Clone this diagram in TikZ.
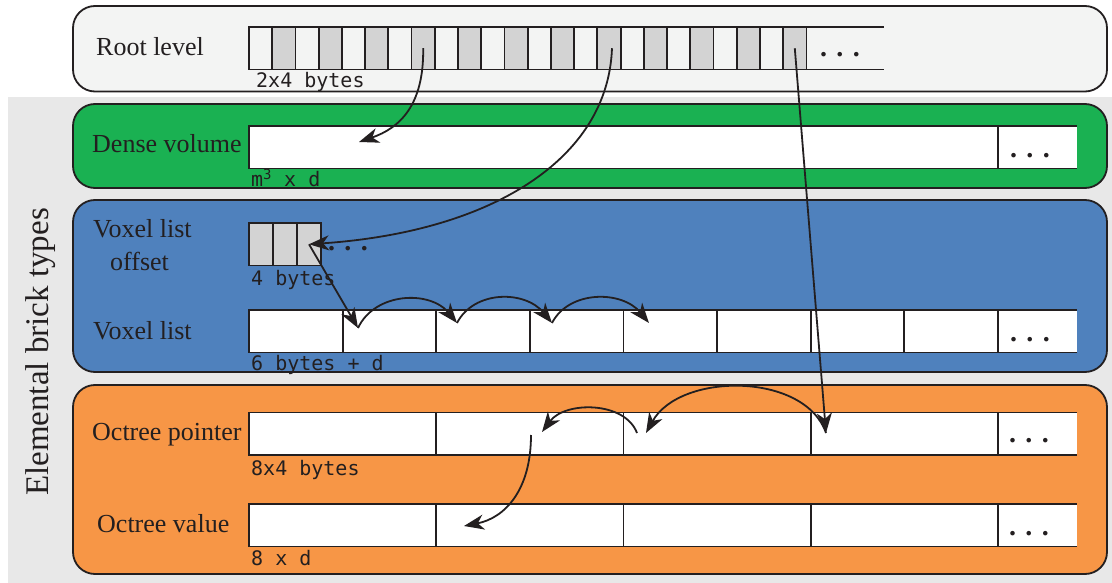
\documentclass[tikz,border=0pt]{standalone}
\usepackage{fontspec}
\setmainfont{Liberation Serif}
\newfontfamily\monof{DejaVu Sans Mono}
\usetikzlibrary{arrows.meta}
\definecolor{outerbg}{HTML}{E8E8E8}
\definecolor{rootbg}{HTML}{F3F4F3}
\definecolor{greenbg}{HTML}{1AB152}
\definecolor{bluebg}{HTML}{4F81BD}
\definecolor{orangebg}{HTML}{F79646}
\definecolor{cellgray}{HTML}{D3D3D3}
\definecolor{ink}{HTML}{231F20}
\begin{document}
\begin{tikzpicture}[x=1pt,y=-1pt,
  panel/.style={draw=ink,line width=1.8pt,rounded corners=22pt},
  cell/.style={draw=ink,line width=1.8pt,inner sep=0pt,outer sep=0pt,anchor=north west,minimum height=42.5pt},
  tail/.style={fill=white,inner sep=0pt,outer sep=0pt,anchor=north west,minimum height=42.5pt,minimum width=79pt},
  rowline/.style={draw=ink,line width=1.8pt},
  lbl/.style={inner sep=0pt,anchor=base west,text=ink,font=\fontsize{26}{30}\selectfont},
  mono/.style={inner sep=0pt,anchor=base west,text=ink,font=\monof\fontsize{20}{24}\selectfont},
  dotsn/.style={inner sep=0pt,anchor=base,text=ink,font=\fontsize{28}{30}\selectfont\bfseries},
  arr/.style={draw=ink,line width=1.8pt,-{Stealth[length=20pt,width=15pt,inset=6pt]}},
]
\useasboundingbox (0,0) rectangle (1112,583);
\fill[outerbg] (8,97) rectangle (1112,583);
% panels
\draw[panel,fill=rootbg] (73,6) rectangle (1107,91.5);
\draw[panel,fill=greenbg] (73,104) rectangle (1107,188);
\draw[panel,fill=bluebg] (73,200) rectangle (1107,372);
\draw[panel,fill=orangebg] (73,385) rectangle (1107,574);
% side label
\node[rotate=90,inner sep=0pt,text=ink,font=\fontsize{33}{36}\selectfont] (side) at (41,352) {Elemental brick types};
% root row
\foreach \i in {0,...,23}{
  \ifodd\i \def\cc{cellgray}\else \def\cc{rootbg}\fi
  \node[cell,fill=\cc,minimum width=23.225pt] (r\i) at ({249+23.225*\i},27) {};
}
\draw[rowline] (r23.north east) -- ++(78,0) (r23.south east) -- ++(78,0);
\node[dotsn] (rdots) at (840,57) {. . .};
\node[lbl] (lroot) at (96,56) {Root level};
\node[mono] (mroot) at (256,88) {2x4 bytes};
% dense volume
\node[tail] (dT) at (998,126) {};
\draw[rowline] (dT.north west) -- (dT.north east) (dT.south west) -- (dT.south east);
\node[cell,fill=white,minimum width=749pt] (d1) at (249,126) {};
\node[dotsn] (ddots) at (1030,157.5) {. . .};
\node[lbl] (ldense) at (92,153) {Dense volume};
\node[mono] (mdense) at (251,186) {m\raisebox{-1pt}{\textsuperscript{3}} x d};
% voxel list offset
\foreach \i in {1,2,3}{
  \node[cell,fill=cellgray,minimum width=24pt] (o\i) at ({249+24*(\i-1)},223) {};
}
\node[dotsn] (odots) at (348,251) {. . .};
\node[lbl] (loff1) at (93,237) {Voxel list};
\node[lbl] (loff2) at (110,270) {offset};
\node[mono] (moff) at (251,285) {4 bytes};
% voxel list
\node[tail] (vT) at (998,310) {};
\draw[rowline] (vT.north west) -- (vT.north east) (vT.south west) -- (vT.south east);
\foreach \i in {1,...,8}{
  \node[cell,fill=white,minimum width=93.625pt] (v\i) at ({249+93.625*(\i-1)},310) {};
}
\node[dotsn] (vdots) at (1030,341) {. . .};
\node[lbl] (lvox) at (93,339) {Voxel list};
\node[mono] (mvox) at (251,370) {6 bytes + d};
% octree pointer
\node[tail] (pT) at (998,412.5) {};
\draw[rowline] (pT.north west) -- (pT.north east) (pT.south west) -- (pT.south east);
\foreach \i in {1,...,4}{
  \node[cell,fill=white,minimum width=187.25pt] (p\i) at ({249+187.25*(\i-1)},412.5) {};
}
\node[dotsn] (pdots) at (1029,442.5) {. . .};
\node[lbl] (lptr) at (92,440) {Octree pointer};
\node[mono] (mptr) at (251,475) {8x4 bytes};
% octree value
\node[tail] (qT) at (998,504) {};
\draw[rowline] (qT.north west) -- (qT.north east) (qT.south west) -- (qT.south east);
\foreach \i in {1,...,4}{
  \node[cell,fill=white,minimum width=187.25pt] (q\i) at ({249+187.25*(\i-1)},504) {};
}
\node[dotsn] (qdots) at (1029,535) {. . .};
\node[lbl] (lval) at (97,532) {Octree value};
\node[mono] (mval) at (251,565) {8 x d};
% arrow end points
\coordinate (tD) at (359,142);
\coordinate (tP) at (826,433);
\coordinate (tV1) at (358,328);
\coordinate (tV2) at (457,323);
\coordinate (tV3) at (552,323);
\coordinate (tV4) at (649,323);
\coordinate (tP2) at (646,433);
\coordinate (sP3) at (637,433);
\coordinate (tP3) at (542,432);
\coordinate (sQ) at (531,435);
\coordinate (tQ) at (464,526);
% arrows
\draw[arr] (r7.center) .. controls (424,105) and (400,128) .. (tD);
\draw[arr] ([xshift=3pt]r15.center) .. controls (608,160) and (490,232) .. (o3.center);
\draw[arr] (r23.center) -- (tP);
\draw[arr] (o3.center) -- (tV1);
\draw[arr] (tV1) .. controls (375,292) and (430,290) .. (tV2);
\draw[arr] (tV2) .. controls (474,290) and (525,290) .. (tV3);
\draw[arr] (tV3) .. controls (569,290) and (622,290) .. (tV4);
\draw[arr] (tP) .. controls (805,372) and (680,372) .. (tP2);
\draw[arr] (sP3) .. controls (625,401) and (565,401) .. (tP3);
\draw[arr] (sQ) .. controls (531,490) and (505,518) .. (tQ);
\end{tikzpicture}
\end{document}
